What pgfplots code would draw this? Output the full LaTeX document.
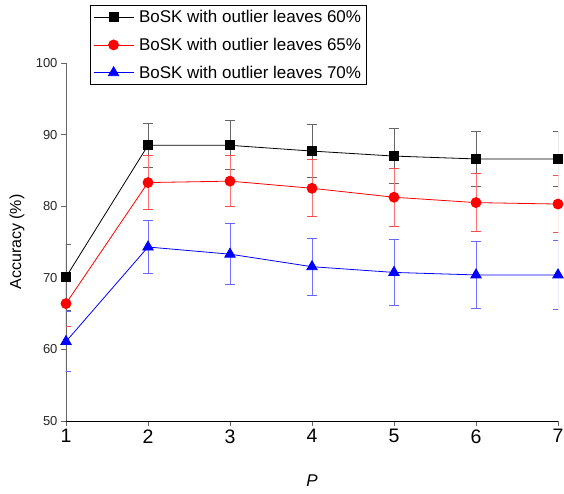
\documentclass[border=0pt]{standalone}
\usepackage{fontspec}
\setmainfont{Liberation Sans}
\usepackage{pgfplots}
\pgfplotsset{compat=1.18}
\begin{document}
\begin{tikzpicture}
\begin{axis}[
  scale only axis,
  width=492pt, height=358pt,
  xmin=1, xmax=7, ymin=50, ymax=100,
  axis lines*=left,
  tick align=outside,
  major tick length=5pt,
  xtick={1,2,3,4,5,6,7},
  ytick={50,60,70,80,90,100},
  /pgf/number format/assume math mode=true,
  xticklabel style={font=\fontsize{19.5}{22}\selectfont},
  yticklabel style={font=\fontsize{13}{15}\selectfont, color=black!85},
  y axis line style={black!60},
  ytick style={black!60},
  xtick style={black!60},
  xlabel={\textit{P}},
  ylabel={Accuracy (\%)},
  xlabel style={font=\fontsize{17}{20}\selectfont, at={(axis description cs:0.5,0)}, anchor=center, yshift=-60pt},
  ylabel style={font=\fontsize{16}{19}\selectfont, at={(axis description cs:-0.0996,0.5)}, anchor=center},
  legend style={at={(0.0488,1.162)}, anchor=north west, draw=black, font=\fontsize{17}{19}\selectfont, row sep=10pt, inner sep=3pt,
    /tikz/every odd column/.append style={column sep=3pt}},
  legend cell align=left,
  legend image code/.code={\draw[mark repeat=2,mark phase=2] plot coordinates {(0pt,0pt) (20pt,0pt) (40pt,0pt)};},
  every axis plot/.append style={line width=0.8pt},
]
\addplot+[black, mark=square*, mark size=4.5pt, mark options={black, fill=black},
  error bars/.cd, y dir=both, y explicit,
  error bar style={black!60, line width=1pt},
  error mark options={rotate=90, mark size=5pt, black!60, line width=1pt}]
  table[x=x, y=y, y error=e] {
x y e
1 70.1 4.6
2 88.5 3.1
3 88.5 3.4
4 87.7 3.7
5 87.0 3.8
6 86.6 3.8
7 86.6 3.8
};
\addlegendentry{BoSK with outlier leaves 60\%}
\addplot+[red, mark=*, mark size=5pt, mark options={red, fill=red},
  error bars/.cd, y dir=both, y explicit,
  error bar style={red!55, line width=1pt},
  error mark options={rotate=90, mark size=5pt, red!70, line width=1pt}]
  table[x=x, y=y, y error=e] {
x y e
1 66.4 3.2
2 83.3 3.8
3 83.5 3.6
4 82.5 4.0
5 81.25 4.05
6 80.5 4.0
7 80.3 4.0
};
\addlegendentry{BoSK with outlier leaves 65\%}
\addplot+[blue, mark=triangle*, mark size=6pt, mark options={blue, fill=blue},
  error bars/.cd, y dir=both, y explicit,
  error bar style={blue!55, line width=1pt},
  error mark options={rotate=90, mark size=5pt, blue!60, line width=1pt}]
  table[x=x, y=y, y error=e] {
x y e
1 61.1 4.2
2 74.3 3.75
3 73.3 4.25
4 71.55 4.0
5 70.75 4.65
6 70.4 4.7
7 70.4 4.8
};
\addlegendentry{BoSK with outlier leaves 70\%}
\end{axis}
\pgfresetboundingbox
\path (-66pt,-73pt) rectangle (498pt,421pt);
\end{tikzpicture}
\end{document}
